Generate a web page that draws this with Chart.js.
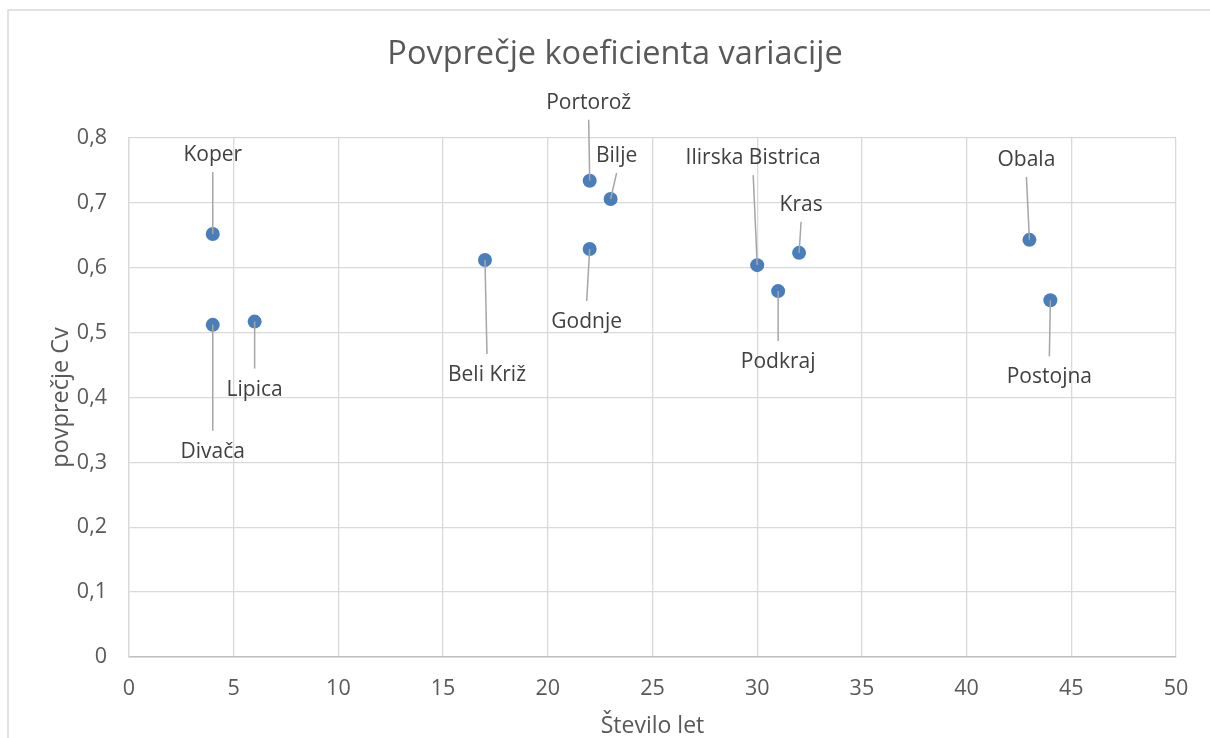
<!DOCTYPE html>
<html>
<head>
<meta charset="utf-8">
<script src="https://cdn.jsdelivr.net/npm/chart.js@4.4.1/dist/chart.umd.min.js"></script>
<style>
  html, body { margin: 0; padding: 0; background: #ffffff; }
  #wrap { width: 1210px; height: 738px; position: relative; }
</style>
</head>
<body>
<div id="wrap"><canvas id="cvChart"></canvas></div>
<script>
// podatki
const stations = ['Koper', 'Divača', 'Lipica', 'Beli Križ', 'Portorož', 'Godnje', 'Bilje',
    'Ilirska Bistrica', 'Podkraj', 'Kras', 'Obala', 'Postojna'];
const years = [4, 4, 6, 17, 22, 22, 23, 30, 31, 32, 43, 44];
const cvValues = [0.652, 0.512, 0.517, 0.612, 0.734, 0.629, 0.706, 0.604, 0.564, 0.623, 0.643, 0.550];
const xTickValues = [0, 5, 10, 15, 20, 25, 30, 35, 40, 45, 50];
const yTickValues = [0, 0.1, 0.2, 0.3, 0.4, 0.5, 0.6, 0.7, 0.8];
const chartTitle = 'Povprečje koeficienta variacije';

// kam gre oznaka glede na točko (px)
const labelOffsets = [
    [0, -79], [0, 127], [0, 68], [2, 115], [-1, -78], [-3, 73], [6, -43],
    [-4, -107], [0, 71], [2, -48], [-3, -80], [-1, 77]
];

const FONT = "'Open Sans', sans-serif";

const frameAndLabels = {
    id: 'frameAndLabels',
    beforeDraw(chart) {
        const ctx = chart.ctx;
        ctx.save();
        ctx.fillStyle = '#ffffff';
        ctx.fillRect(0, 0, chart.width, chart.height);
        ctx.strokeStyle = '#d9d9d9';
        ctx.lineWidth = 1.5;
        ctx.strokeRect(8, 10, 1400, 900);
        // naslov - centriran na cel graf
        ctx.fillStyle = '#595959';
        ctx.font = '32.5px ' + FONT;
        ctx.textAlign = 'center';
        ctx.textBaseline = 'middle';
        ctx.fillText(chartTitle, 615, 55);
        ctx.restore();
    },
    afterDatasetsDraw(chart) {
        const ctx = chart.ctx;
        const meta = chart.getDatasetMeta(0);
        ctx.save();
        ctx.font = '21px ' + FONT;
        ctx.textAlign = 'center';
        ctx.textBaseline = 'middle';
        meta.data.forEach((pt, i) => {
            const [dx, dy] = labelOffsets[i];
            const lx = pt.x + dx;
            const ly = pt.y + dy;
            const endY = dy < 0 ? ly + 17 : ly - 21;
            ctx.strokeStyle = '#a6a6a6';
            ctx.lineWidth = 1.5;
            ctx.beginPath();
            ctx.moveTo(pt.x, pt.y);
            ctx.lineTo(lx, endY);
            ctx.stroke();
            ctx.fillStyle = '#404040';
            ctx.fillText(stations[i], lx, ly);
        });
        ctx.restore();
    }
};

new Chart(document.getElementById('cvChart'), {
    type: 'scatter',
    data: {
        datasets: [{
            label: 'povprečje Cv',
            data: years.map((x, i) => ({ x: x, y: cvValues[i] })),
            backgroundColor: '#4a7ebb',
            borderColor: '#4a7ebb',
            borderWidth: 0,
            pointRadius: 7,
            pointHoverRadius: 7
        }]
    },
    options: {
        responsive: true,
        maintainAspectRatio: false,
        animation: false,
        layout: { padding: { left: 0, right: 34, top: 138, bottom: 0 } },
        scales: {
            x: {
                type: 'linear',
                min: 0,
                max: 50,
                afterBuildTicks: (scale) => { scale.ticks = xTickValues.map(v => ({ value: v })); },
                afterFit: (scale) => { scale.height = 81; },
                ticks: {
                    color: '#595959',
                    font: { size: 21.5, family: FONT },
                    padding: 19
                },
                grid: { color: '#d9d9d9', lineWidth: 1.3, drawTicks: false },
                border: { color: '#bfbfbf', width: 1.5 },
                title: {
                    display: true,
                    text: 'Število let',
                    color: '#595959',
                    font: { size: 23, family: FONT },
                    padding: { top: 0, bottom: -2 }
                }
            },
            y: {
                min: 0,
                max: 0.8,
                afterBuildTicks: (scale) => { scale.ticks = yTickValues.map(v => ({ value: v })); },
                afterFit: (scale) => { scale.width = 129; },
                ticks: {
                    color: '#595959',
                    font: { size: 21.5, family: FONT },
                    padding: 22,
                    callback: (v) => v === 0 ? '0' : v.toFixed(1).replace('.', ',')
                },
                grid: { color: '#d9d9d9', lineWidth: 1.3, drawTicks: false },
                border: { color: '#d9d9d9', width: 1.3 },
                title: {
                    display: true,
                    text: 'povprečje Cv',
                    color: '#595959',
                    font: { size: 23.5, family: FONT },
                    padding: { top: 47, bottom: 0 }
                }
            }
        },
        plugins: {
            legend: { display: false },
            tooltip: { enabled: false },
            title: { display: false }
        }
    },
    plugins: [frameAndLabels]
});
</script>
</body>
</html>
